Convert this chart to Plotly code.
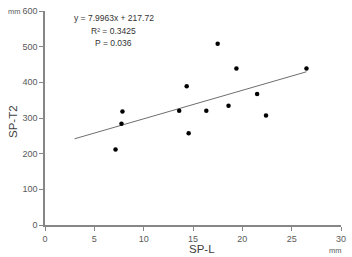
import plotly.graph_objects as go

# Data
sp_l = [7.15, 7.85, 7.75, 14.36, 13.6, 14.56, 16.35, 17.5, 19.4, 18.6, 21.5, 22.4, 26.5]
sp_t2 = [212, 318, 284, 389, 320, 257, 320, 508, 439, 334, 367, 307, 439]
slope = 7.9963
intercept = 217.72
trend_x = [3.0, 26.5]
trend_y = [slope * v + intercept for v in trend_x]
x_ticks = [0, 5, 10, 15, 20, 25, 30]
y_ticks = [0, 100, 200, 300, 400, 500, 600]

FONT = "Liberation Sans"
AXIS_COL = "#868686"
TICK_COL = "#595959"

W, H = 352, 257
ML, MR, MT, MB = 45, 6, 8, 32

fig = go.Figure()
fig.add_trace(go.Scatter(x=trend_x, y=trend_y, mode="lines",
                         line=dict(color="#6e6e6e", width=1), showlegend=False,
                         hoverinfo="skip"))
fig.add_trace(go.Scatter(x=sp_l, y=sp_t2, mode="markers",
                         marker=dict(color="black", size=4.5), showlegend=False))

fig.update_layout(
    width=W, height=H,
    margin=dict(l=ML, r=MR, t=MT, b=MB),
    paper_bgcolor="white", plot_bgcolor="white",
    font=dict(family=FONT, size=9, color=TICK_COL),
    xaxis=dict(range=[0, 30], tickvals=x_ticks, showgrid=False, zeroline=False,
               showline=True, linecolor=AXIS_COL, linewidth=1.5,
               ticks="outside", ticklen=4, tickcolor=AXIS_COL, tickwidth=1,
               tickfont=dict(size=9, color=TICK_COL)),
    yaxis=dict(range=[0, 600], tickvals=y_ticks, showgrid=False, zeroline=False,
               showline=True, linecolor=AXIS_COL, linewidth=1.5,
               ticks="outside", ticklen=4, tickcolor=AXIS_COL, tickwidth=1,
               tickfont=dict(size=9, color=TICK_COL)),
)

annotations = [
    dict(text="SP-T2", x=13, y=120, textangle=-90, font=dict(size=11.5, color="#404040")),
    dict(text="SP-L", x=205, y=249, font=dict(size=11.5, color="#404040")),
    dict(text="mm", x=14, y=9, font=dict(size=7.5, color=TICK_COL)),
    dict(text="mm", x=340, y=251, font=dict(size=7.5, color=TICK_COL)),
    dict(text="y = 7.9963x + 217.72", x=115, y=15, font=dict(size=8.5, color="#333333")),
    dict(text="R² = 0.3425", x=115, y=28, font=dict(size=8.5, color="#333333")),
    dict(text="P = 0.036", x=115, y=40, font=dict(size=8.5, color="#333333")),
]
for a in annotations:
    px, py = a["x"], a["y"]
    a["x"] = (px - ML) / (W - ML - MR)
    a["y"] = 1 - (py - MT) / (H - MT - MB)
    a.update(xref="paper", yref="paper", showarrow=False, xanchor="center", yanchor="middle")
    fig.add_annotation(**a)

fig.write_html("out.html")
